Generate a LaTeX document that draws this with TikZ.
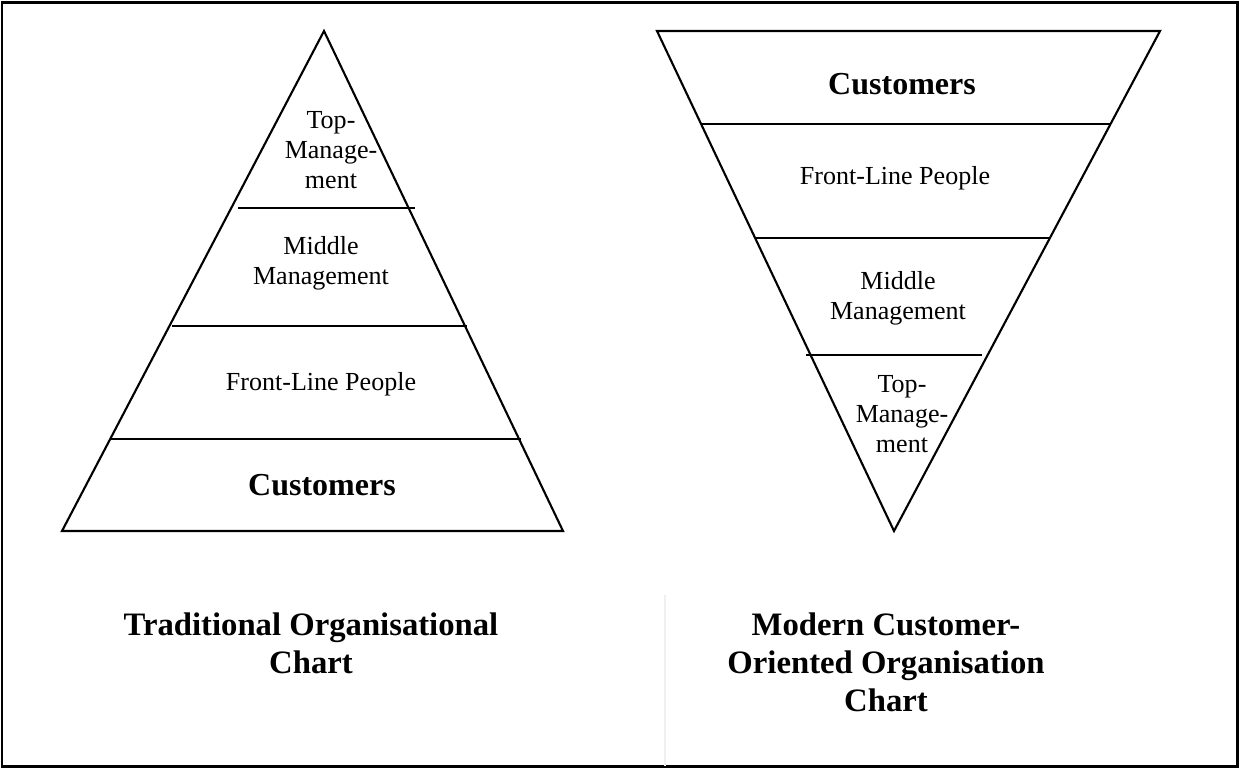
\documentclass[tikz,border=0pt]{standalone}
\usepackage{fontspec}
\setmainfont{Liberation Serif}
\usepackage{tikz}

\begin{document}
\begin{tikzpicture}[x=0.01cm, y=-0.01cm]
%% the figure uses pixel coordinates of the scanned chart (y grows downwards)
\tikzstyle{edge}=[line width=0.6pt]
\tikzstyle{layer}=[align=center, font=\fontsize{7.4}{8.5}\selectfont, inner sep=0pt]
\tikzstyle{base}=[font=\fontsize{9.1}{10}\selectfont\bfseries, inner sep=0pt]
\tikzstyle{caption}=[align=center, font=\fontsize{9.3}{10.8}\selectfont\bfseries, inner sep=0pt]
\useasboundingbox (0,0) rectangle (1240,769);
%% outer frame
\draw[line width=0.85pt] (2,2) rectangle (1237,766);
\draw[black!6, line width=0.3pt] (665,595) -- (665,766);
%% Traditional chart (pyramid)
\coordinate (Apex) at (324,31);
\coordinate (BaseL) at (62,531);
\coordinate (BaseR) at (563,531);
\draw[edge] (Apex) -- (BaseL) -- (BaseR) -- cycle;
\draw[edge] (238,208) -- (415,208);
\draw[edge] (172,326) -- (467,326);
\draw[edge] (111,439) -- (521,439);
\node[layer] at (331,150) (Top_Trad) {Top-\\Manage-\\ment};
\node[layer] at (321,263) (Middle_Trad) {Middle\\Management};
\node[layer] at (321,384) (Front_Trad) {Front-Line People};
\node[base] at (322,485) (Customers_Trad) {Customers};
%% Modern chart (inverted pyramid)
\coordinate (TopL) at (657,31);
\coordinate (TopR) at (1160,31);
\coordinate (Tip) at (894,531);
\draw[edge] (TopL) -- (TopR) -- (Tip) -- cycle;
\draw[edge] (702,124) -- (1111,124);
\draw[edge] (755,238) -- (1050,238);
\draw[edge] (806,355) -- (982,355);
\node[base] at (902,84) (Customers_Mod) {Customers};
\node[layer] at (895,178) (Front_Mod) {Front-Line People};
\node[layer] at (898,298) (Middle_Mod) {Middle\\Management};
\node[layer] at (902,414) (Top_Mod) {Top-\\Manage-\\ment};
%% captions
\node[caption] at (311,643) (Caption_Trad) {Traditional Organisational\\Chart};
\node[caption] at (886,662) (Caption_Mod) {Modern Customer-\\Oriented Organisation\\Chart};
\end{tikzpicture}
\end{document}
